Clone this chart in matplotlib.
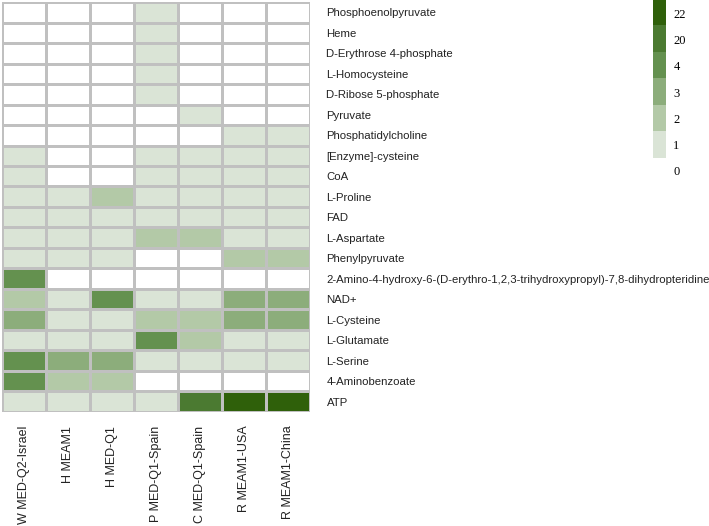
import numpy as np
import matplotlib
matplotlib.use('Agg')
import matplotlib.pyplot as plt
from matplotlib.colors import ListedColormap, BoundaryNorm

samples = ['W MED-Q2-Israel', 'H MEAM1', 'H MED-Q1', 'P MED-Q1-Spain',
           'C MED-Q1-Spain', 'R MEAM1-USA', 'R MEAM1-China']
metabolites = ['Phosphoenolpyruvate', 'Heme', 'D-Erythrose 4-phosphate',
               'L-Homocysteine', 'D-Ribose 5-phosphate', 'Pyruvate',
               'Phosphatidylcholine', '[Enzyme]-cysteine', 'CoA', 'L-Proline',
               'FAD', 'L-Aspartate', 'Phenylpyruvate',
               '2-Amino-4-hydroxy-6-(D-erythro-1,2,3-trihydroxypropyl)-7,8-dihydropteridine',
               'NAD+', 'L-Cysteine', 'L-Glutamate', 'L-Serine',
               '4-Aminobenzoate', 'ATP']
counts = [
    [0, 0, 0, 1, 0, 0, 0],
    [0, 0, 0, 1, 0, 0, 0],
    [0, 0, 0, 1, 0, 0, 0],
    [0, 0, 0, 1, 0, 0, 0],
    [0, 0, 0, 1, 0, 0, 0],
    [0, 0, 0, 0, 1, 0, 0],
    [0, 0, 0, 0, 0, 1, 1],
    [1, 0, 0, 1, 1, 1, 1],
    [1, 0, 0, 1, 1, 1, 1],
    [1, 1, 2, 1, 1, 1, 1],
    [1, 1, 1, 1, 1, 1, 1],
    [1, 1, 1, 2, 2, 1, 1],
    [1, 1, 1, 0, 0, 2, 2],
    [4, 0, 0, 0, 0, 0, 0],
    [2, 1, 4, 1, 1, 3, 3],
    [3, 1, 1, 2, 2, 3, 3],
    [1, 1, 1, 4, 2, 1, 1],
    [4, 3, 3, 1, 1, 1, 1],
    [4, 2, 2, 0, 0, 0, 0],
    [1, 1, 1, 1, 20, 22, 22],
]
levels = [0, 1, 2, 3, 4, 20, 22]
level_colors = ['#ffffff', '#dae4d6', '#b3c9a7', '#8cad7b',
                '#64914f', '#4b7a31', '#2f600a']

cmap = ListedColormap(level_colors)
norm = BoundaryNorm(np.arange(len(levels) + 1) - 0.5, len(levels))
idx = np.vectorize(levels.index)(np.array(counts))

fig = plt.figure(figsize=(7.09, 5.26), dpi=100)
ax = fig.add_axes([0.003, 0.217, 0.434, 0.779])
ax.pcolormesh(idx, cmap=cmap, norm=norm, edgecolors='#c0c0c0', linewidth=1.8)
ax.set_xlim(0, len(samples))
ax.set_ylim(len(metabolites), 0)
for s in ax.spines.values():
    s.set_visible(False)

ax.yaxis.tick_right()
ax.set_yticks(np.arange(len(metabolites)) + 0.5)
ax.set_yticklabels(metabolites, fontsize=8.2, family='Liberation Sans', color='#222222')
ax.set_xticks(np.arange(len(samples)) + 0.5)
ax.set_xticklabels(samples, rotation=90, fontsize=9, family='Liberation Sans', color='#222222')
ax.tick_params(axis='y', length=0, pad=12)
ax.tick_params(axis='x', length=0, pad=10)

# discrete legend bar, top right
cax = fig.add_axes([0.921, 0.650, 0.017, 0.350])
cax.imshow(np.arange(len(levels))[::-1].reshape(-1, 1), cmap=cmap, norm=norm,
           aspect='auto', extent=[0, 1, 0, len(levels)])
cax.set_xticks([])
cax.yaxis.tick_right()
cax.set_yticks(np.arange(len(levels)) + 0.5)
cax.set_yticklabels([str(v) for v in levels], fontsize=9, family='Liberation Serif')
cax.tick_params(axis='y', length=0, pad=6)
for s in cax.spines.values():
    s.set_visible(False)

fig.savefig('out.png', dpi=100)
